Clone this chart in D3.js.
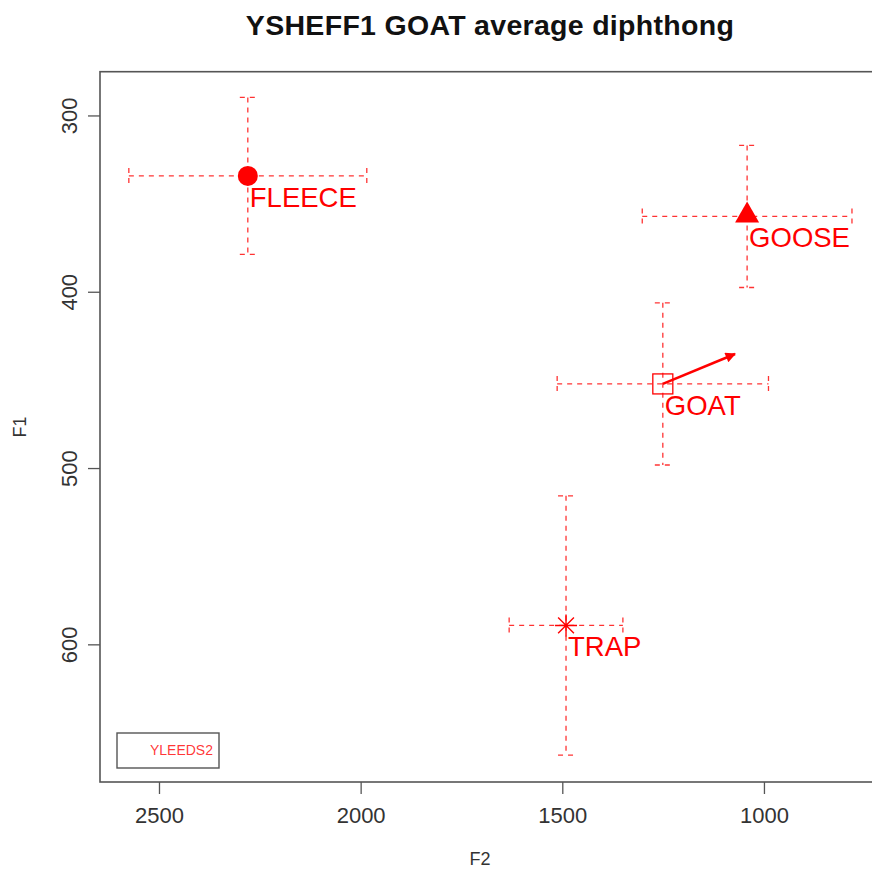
<!DOCTYPE html>
<html>
<head>
<meta charset="utf-8">
<script src="https://cdn.jsdelivr.net/npm/d3@7"></script>
<style>
body { margin: 0; background: #fff; }
svg { font-family: "Liberation Sans", Arial, sans-serif; }
</style>
</head>
<body>
<div id="chart"></div>
<script>
var width = 872
var height = 877

// vowel means and spreads (Hz)
var vowels = ["FLEECE", "GOOSE", "GOAT", "TRAP"]
var shapes = ["circle", "triangle", "square", "asterisk"]
var f2Mean = [2281, 1043, 1252, 1492]
var f1Mean = [334, 357, 452, 589]
var f2Sd = [295, 260, 262, 141]
var f1Sd = [44.5, 40.3, 46, 73.5]

// diphthong glide for GOAT
var glideFrom = [1252, 452]
var glideTo = [1073, 435]

var xTicks = [2500, 2000, 1500, 1000]
var yTicks = [300, 400, 500, 600]
var legendLabel = "YLEEDS2"

var plotL = 100, plotT = 71.7, plotR = 880, plotB = 782

var x = d3.scaleLinear()
    .domain([2647.5, 713.5])
    .range([plotL, plotR])

var y = d3.scaleLinear()
    .domain([274.9, 677.8])
    .range([plotT, plotB])

var svg = d3.select("#chart")
    .append("svg")
    .attr("width", width)
    .attr("height", height)

var RED = "#ff0000"

svg.append("text")
    .attr("x", (plotL + plotR) / 2)
    .attr("y", 35)
    .attr("text-anchor", "middle")
    .attr("font-weight", "bold")
    .attr("font-size", 28.5)
    .attr("letter-spacing", 0.3)
    .attr("fill", "#111")
    .text("YSHEFF1 GOAT average diphthong")

// frame
svg.append("rect")
    .attr("x", plotL)
    .attr("y", plotT)
    .attr("width", plotR - plotL)
    .attr("height", plotB - plotT)
    .attr("fill", "none")
    .attr("stroke", "#555")
    .attr("stroke-width", 1.6)

// x axis
var gx = svg.append("g").attr("class", "xaxis")
gx.selectAll("line")
    .data(xTicks)
    .enter()
    .append("line")
    .attr("x1", d => x(d)).attr("x2", d => x(d))
    .attr("y1", plotB).attr("y2", plotB + 12)
    .attr("stroke", "#555").attr("stroke-width", 1.3)
gx.selectAll("text")
    .data(xTicks)
    .enter()
    .append("text")
    .attr("x", d => x(d))
    .attr("y", 823)
    .attr("text-anchor", "middle")
    .attr("font-size", 22)
    .attr("fill", "#333")
    .text(d => d)

// y axis
var gy = svg.append("g").attr("class", "yaxis")
gy.selectAll("line")
    .data(yTicks)
    .enter()
    .append("line")
    .attr("x1", plotL - 12).attr("x2", plotL)
    .attr("y1", d => y(d)).attr("y2", d => y(d))
    .attr("stroke", "#555").attr("stroke-width", 1.3)
gy.selectAll("text")
    .data(yTicks)
    .enter()
    .append("text")
    .attr("transform", d => "translate(77," + y(d) + ") rotate(-90)")
    .attr("text-anchor", "middle")
    .attr("font-size", 22)
    .attr("fill", "#333")
    .text(d => d)

svg.append("text")
    .attr("x", (plotL + plotR) / 2 - 10)
    .attr("y", 865)
    .attr("text-anchor", "middle")
    .attr("font-size", 18)
    .attr("fill", "#333")
    .text("F2")

svg.append("text")
    .attr("transform", "translate(26,427) rotate(-90)")
    .attr("text-anchor", "middle")
    .attr("font-size", 18)
    .attr("fill", "#333")
    .text("F1")

// error bars
var rows = vowels.map((v, i) => ({
    name: v, shape: shapes[i],
    f2: f2Mean[i], f1: f1Mean[i], sd2: f2Sd[i], sd1: f1Sd[i]
}))

var cap = 8
var bars = svg.append("g")
    .attr("stroke", RED)
    .attr("stroke-opacity", 0.8)
    .attr("stroke-width", 1.3)
    .attr("stroke-dasharray", "5,5")
    .attr("fill", "none")

rows.forEach(function(d) {
    var cx = x(d.f2), cy = y(d.f1)
    var x0 = x(d.f2 + d.sd2), x1 = x(d.f2 - d.sd2)
    var y0 = y(d.f1 - d.sd1), y1 = y(d.f1 + d.sd1)
    bars.append("line").attr("x1", x0).attr("x2", x1).attr("y1", cy).attr("y2", cy)
    bars.append("line").attr("x1", cx).attr("x2", cx).attr("y1", y0).attr("y2", y1)
    bars.append("line").attr("x1", x0).attr("x2", x0).attr("y1", cy - cap).attr("y2", cy + cap)
    bars.append("line").attr("x1", x1).attr("x2", x1).attr("y1", cy - cap).attr("y2", cy + cap)
    bars.append("line").attr("x1", cx - cap).attr("x2", cx + cap).attr("y1", y0).attr("y2", y0)
    bars.append("line").attr("x1", cx - cap).attr("x2", cx + cap).attr("y1", y1).attr("y2", y1)
})

// point markers
var marks = svg.append("g")
rows.forEach(function(d) {
    var cx = x(d.f2), cy = y(d.f1)
    if (d.shape == "circle") {
        marks.append("circle").attr("cx", cx).attr("cy", cy).attr("r", 10).attr("fill", RED)
    } else if (d.shape == "triangle") {
        marks.append("path")
            .attr("d", d3.symbol().type(d3.symbolTriangle).size(250))
            .attr("transform", "translate(" + cx + "," + (cy - 1) + ")")
            .attr("fill", RED)
    } else if (d.shape == "square") {
        marks.append("rect")
            .attr("x", cx - 10).attr("y", cy - 10)
            .attr("width", 20).attr("height", 20)
            .attr("fill", "none").attr("stroke", RED).attr("stroke-width", 1.3)
    } else {
        var r = 11
        var p = d3.path()
        p.moveTo(cx - r, cy); p.lineTo(cx + r, cy)
        p.moveTo(cx, cy - r); p.lineTo(cx, cy + r)
        p.moveTo(cx - r * 0.72, cy - r * 0.72); p.lineTo(cx + r * 0.72, cy + r * 0.72)
        p.moveTo(cx - r * 0.72, cy + r * 0.72); p.lineTo(cx + r * 0.72, cy - r * 0.72)
        marks.append("path").attr("d", p.toString())
            .attr("stroke", RED).attr("stroke-width", 1.4).attr("fill", "none")
    }
    marks.append("text")
        .attr("x", cx + 2)
        .attr("y", cy + 31)
        .attr("font-size", 27.5)
        .attr("fill", RED)
        .text(d.name)
})

// GOAT glide arrow
svg.append("defs").append("marker")
    .attr("id", "head")
    .attr("viewBox", "0 0 10 10")
    .attr("refX", 9).attr("refY", 5)
    .attr("markerWidth", 6).attr("markerHeight", 4)
    .attr("markerUnits", "strokeWidth")
    .attr("orient", "auto")
    .append("path")
    .attr("d", "M0,0 L10,5 L0,10 Z")
    .attr("fill", RED)

svg.append("line")
    .attr("x1", x(glideFrom[0])).attr("y1", y(glideFrom[1]))
    .attr("x2", x(glideTo[0])).attr("y2", y(glideTo[1]))
    .attr("stroke", RED)
    .attr("stroke-width", 2.6)
    .attr("marker-end", "url(#head)")

// legend
svg.append("rect")
    .attr("x", 117).attr("y", 733)
    .attr("width", 102).attr("height", 35)
    .attr("fill", "none")
    .attr("stroke", "#555")
    .attr("stroke-width", 1.4)
svg.append("text")
    .attr("x", 213)
    .attr("y", 755)
    .attr("text-anchor", "end")
    .attr("font-size", 14)
    .attr("fill", RED)
    .attr("fill-opacity", 0.8)
    .text(legendLabel)
</script>
</body>
</html>
